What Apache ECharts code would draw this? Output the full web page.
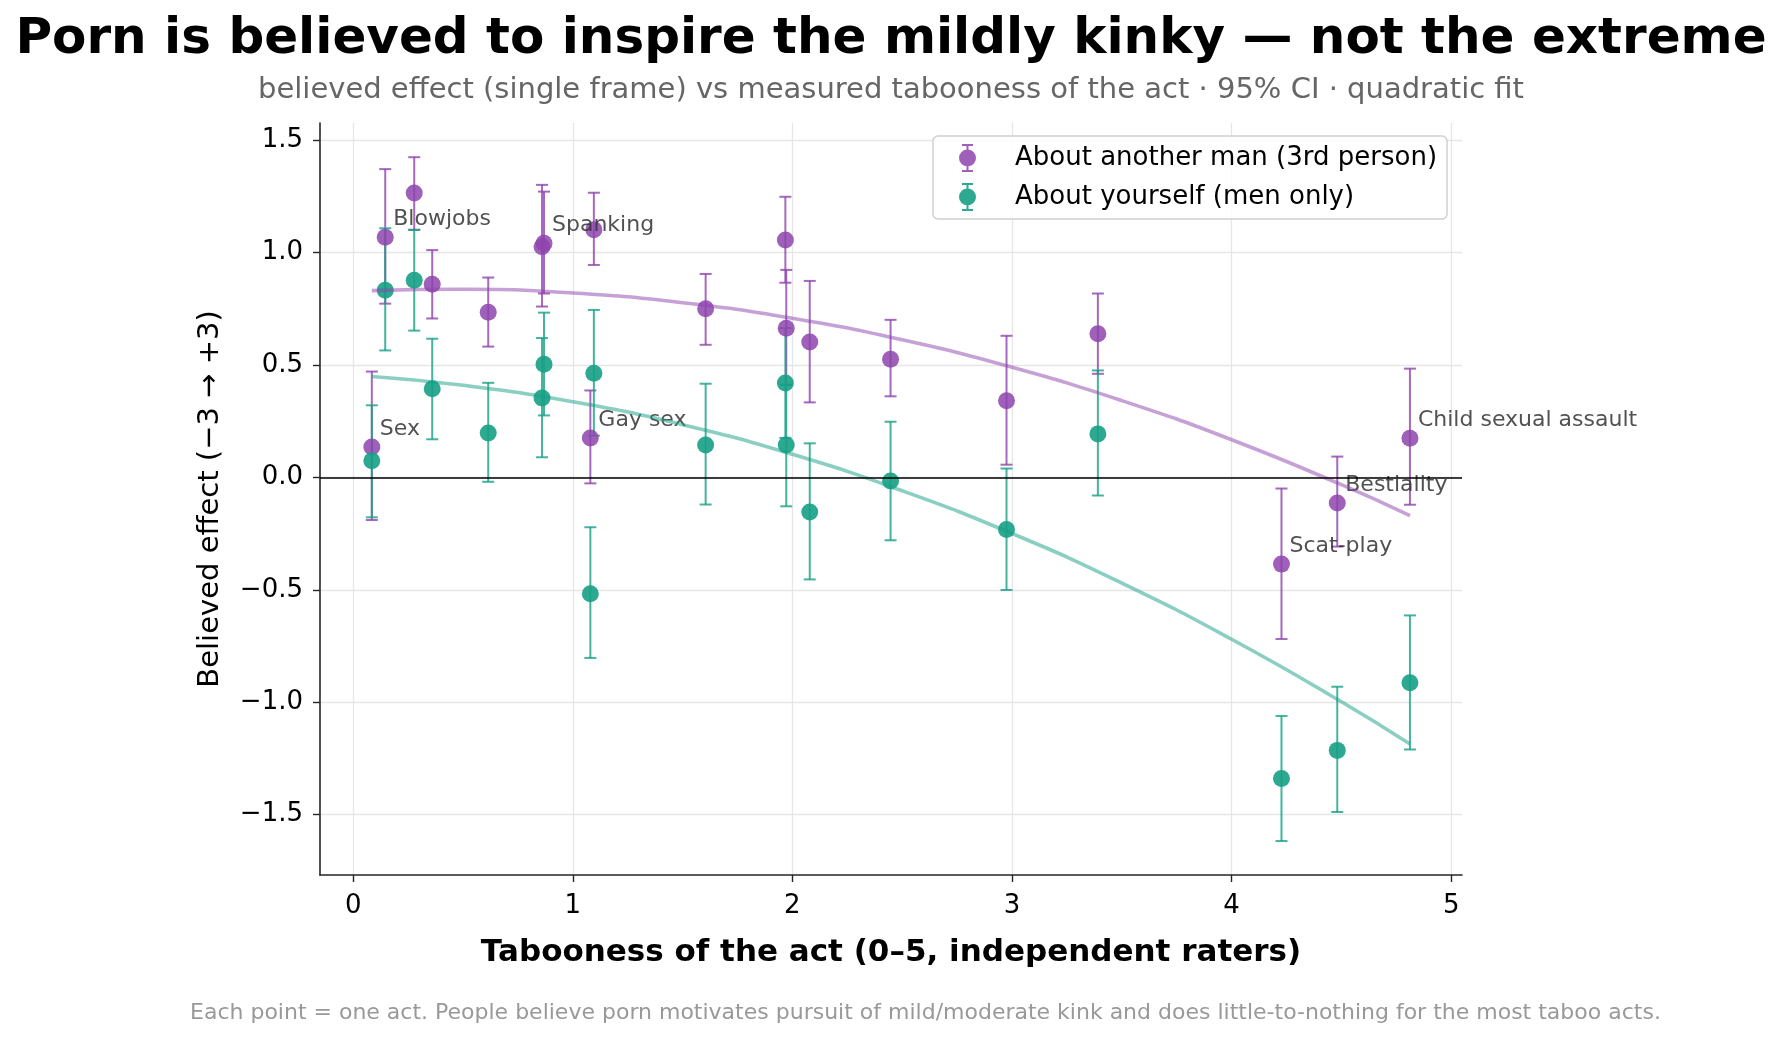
<!DOCTYPE html>
<html><head><meta charset="utf-8">
<script src="https://cdn.jsdelivr.net/npm/echarts@6/dist/echarts.min.js"></script>
<style>html,body{margin:0;padding:0;background:#fff}#c{width:1782px;height:1039px}</style>
</head><body><div id="c"></div>
<script>
// ---- data ----
const actLabels = ['Sex','Blowjobs','','','','','Spanking','Gay sex','','','','','','','','','Scat-play','Bestiality','Child sexual assault'];
const taboo     = [0.085,0.146,0.278,0.360,0.615,0.860,0.869,1.080,1.096,1.605,1.968,1.972,2.079,2.447,2.975,3.391,4.227,4.481,4.812];
// About another man (3rd person)
const otherMean = [0.135,1.067,1.264,0.858,0.734,1.025,1.040,0.175,1.101,0.749,1.055,0.663,0.601,0.525,0.340,0.638,-0.386,-0.114,0.174];
const otherLo   = [-0.190,0.772,1.100,0.706,0.581,0.759,0.817,-0.027,0.944,0.589,0.865,0.410,0.333,0.360,0.056,0.460,-0.719,-0.308,-0.122];
const otherHi   = [0.470,1.370,1.423,1.010,0.888,1.300,1.270,0.386,1.265,0.904,1.247,0.922,0.873,0.700,0.629,0.817,-0.050,0.092,0.483];
// About yourself (men only)
const selfMean  = [0.074,0.832,0.876,0.394,0.197,0.352,0.503,-0.518,0.463,0.144,0.419,0.144,-0.154,-0.016,-0.232,0.193,-1.339,-1.214,-0.913];
const selfLo    = [-0.178,0.564,0.652,0.169,-0.020,0.089,0.275,-0.803,0.185,-0.121,0.175,-0.129,-0.454,-0.280,-0.501,-0.081,-1.617,-1.488,-1.210];
const selfHi    = [0.320,1.107,1.100,0.616,0.420,0.619,0.732,-0.222,0.744,0.416,0.663,0.411,0.151,0.247,0.039,0.475,-1.061,-0.931,-0.614];
// quadratic fit curves
const fitX      = [0.085,0.5,1.0,1.5,2.0,2.5,3.0,3.5,4.0,4.5,4.812];
const fitOther  = [0.830,0.836,0.819,0.776,0.707,0.611,0.489,0.341,0.167,-0.033,-0.170];
const fitSelf   = [0.448,0.409,0.336,0.234,0.102,-0.060,-0.250,-0.470,-0.720,-0.998,-1.186];
// ticks
const xTicks = [0,1,2,3,4,5];
const yTicks = [-1.5,-1.0,-0.5,0,0.5,1.0,1.5];

const FONT = 'DejaVu Sans';
const PURPLE = '#8E44AD', GREEN = '#16A085';
const legendIcon = 'path://M3,0H14V2H3Z M7.5,0H9.5V28H7.5Z M3,26H14V28H3Z M0,14A8.5,8.5 0 1,1 17,14A8.5,8.5 0 1,1 0,14Z';
const footnote = 'Each point = one act. People believe porn motivates pursuit of mild/moderate kink and does little-to-nothing for the most taboo acts.';

function errRender(color){
  return function(params, api){
    const x = api.value(0), lo = api.value(1), hi = api.value(2);
    const a = api.coord([x, hi]), b = api.coord([x, lo]);
    const cw = 6;
    const st = {stroke: color, lineWidth: 2, opacity: 0.8};
    return {type:'group', children:[
      {type:'line', shape:{x1:a[0],y1:a[1],x2:b[0],y2:b[1]}, style:st},
      {type:'line', shape:{x1:a[0]-cw,y1:a[1],x2:a[0]+cw,y2:a[1]}, style:st},
      {type:'line', shape:{x1:b[0]-cw,y1:b[1],x2:b[0]+cw,y2:b[1]}, style:st}
    ]};
  };
}

const otherPts = taboo.map((x,i)=>{
  const d = {value:[x, otherMean[i]]};
  if (actLabels[i]) d.label = {show:true, formatter: actLabels[i]};
  return d;
});
const selfPts = taboo.map((x,i)=>[x, selfMean[i]]);
const otherErr = taboo.map((x,i)=>[x, otherLo[i], otherHi[i]]);
const selfErr = taboo.map((x,i)=>[x, selfLo[i], selfHi[i]]);

const chart = echarts.init(document.getElementById('c'), null, {renderer:'canvas'});
chart.setOption({
  backgroundColor:'#fff',
  animation:false,
  textStyle:{fontFamily:FONT},
  title:{
    text:'Porn is believed to inspire the mildly kinky \u2014 not the extreme',
    subtext:'believed effect (single frame) vs measured tabooness of the act \u00b7 95% CI \u00b7 quadratic fit',
    left:'center', top:10, itemGap:11,
    textStyle:{fontFamily:FONT, fontSize:50, fontWeight:'bold', color:'#000'},
    subtextStyle:{fontFamily:FONT, fontSize:29, color:'#666'}
  },
  legend:{
    left:933, top:136, orient:'vertical',
    padding:[8,10,8,26], itemGap:11, itemWidth:17, itemHeight:28,
    selectedMode:false,
    borderColor:'#d0d0d0', borderWidth:1.5, borderRadius:5, backgroundColor:'rgba(255,255,255,0.85)',
    textStyle:{fontFamily:FONT, fontSize:26, color:'#000', padding:[0,0,0,34]},
    data:[
      {name:'About another man (3rd person)', icon:legendIcon, itemStyle:{color:PURPLE, opacity:0.85}},
      {name:'About yourself (men only)', icon:legendIcon, itemStyle:{color:GREEN, opacity:0.9}}
    ]
  },
  grid:{left:320, right:320, top:123, bottom:164, containLabel:false},
  xAxis:{
    type:'value', min:-0.151, max:5.049,
    name:'Tabooness of the act (0\u20135, independent raters)',
    nameLocation:'middle', nameGap:62,
    nameTextStyle:{fontFamily:FONT, fontSize:31, fontWeight:'bold', color:'#000'},
    axisLine:{show:true, onZero:false, lineStyle:{color:'#262626', width:1.6}},
    axisTick:{show:true, customValues:xTicks, length:7, lineStyle:{color:'#262626', width:1.4}},
    axisLabel:{customValues:xTicks, margin:18, fontSize:26, color:'#000', fontFamily:FONT},
    splitLine:{show:true, lineStyle:{color:'#e6e6e6', width:1.3}}
  },
  yAxis:{
    type:'value', min:-1.768, max:1.575,
    name:'Believed effect (\u22123 \u2192 +3)',
    nameLocation:'middle', nameGap:95, nameRotate:90,
    nameTextStyle:{fontFamily:FONT, fontSize:29, color:'#000'},
    axisLine:{show:true, onZero:false, lineStyle:{color:'#262626', width:1.6}},
    axisTick:{show:true, customValues:yTicks, length:7, lineStyle:{color:'#262626', width:1.4}},
    axisLabel:{customValues:yTicks, margin:17, fontSize:26, color:'#000', fontFamily:FONT,
      formatter:v=>(v<0?'\u2212':'')+Math.abs(v).toFixed(1)},
    splitLine:{show:true, lineStyle:{color:'#e6e6e6', width:1.3}}
  },
  series:[
    {type:'line', name:'fitOther', data:fitX.map((x,i)=>[x,fitOther[i]]), smooth:true, symbol:'none',
      lineStyle:{color:PURPLE, width:3.6, opacity:0.5}, silent:true},
    {type:'line', name:'fitSelf', data:fitX.map((x,i)=>[x,fitSelf[i]]), smooth:true, symbol:'none',
      lineStyle:{color:GREEN, width:3.6, opacity:0.5}, silent:true},
    {type:'line', name:'zero', data:[], silent:true,
      markLine:{symbol:'none', silent:true, label:{show:false}, lineStyle:{color:'#000', width:1.6, type:'solid'},
        data:[{yAxis:0}]}},
    {type:'custom', name:'errOther', data:otherErr, renderItem:errRender(PURPLE), encode:{x:0, y:[1,2]}, silent:true},
    {type:'scatter', name:'About another man (3rd person)', data:otherPts, symbolSize:17,
      itemStyle:{color:PURPLE, opacity:0.85},
      label:{show:false, position:[16.5,-9.2], align:'left', verticalAlign:'middle', fontFamily:FONT, fontSize:22, color:'#333'}},
    {type:'custom', name:'errSelf', data:selfErr, renderItem:errRender(GREEN), encode:{x:0, y:[1,2]}, silent:true},
    {type:'scatter', name:'About yourself (men only)', data:selfPts, symbolSize:17,
      itemStyle:{color:GREEN, opacity:0.9}}
  ],
  graphic:[
    {type:'text', left:190, top:1002, style:{text:footnote, fontFamily:FONT, fontSize:22, fill:'#999'}}
  ]
});
</script></body></html>
